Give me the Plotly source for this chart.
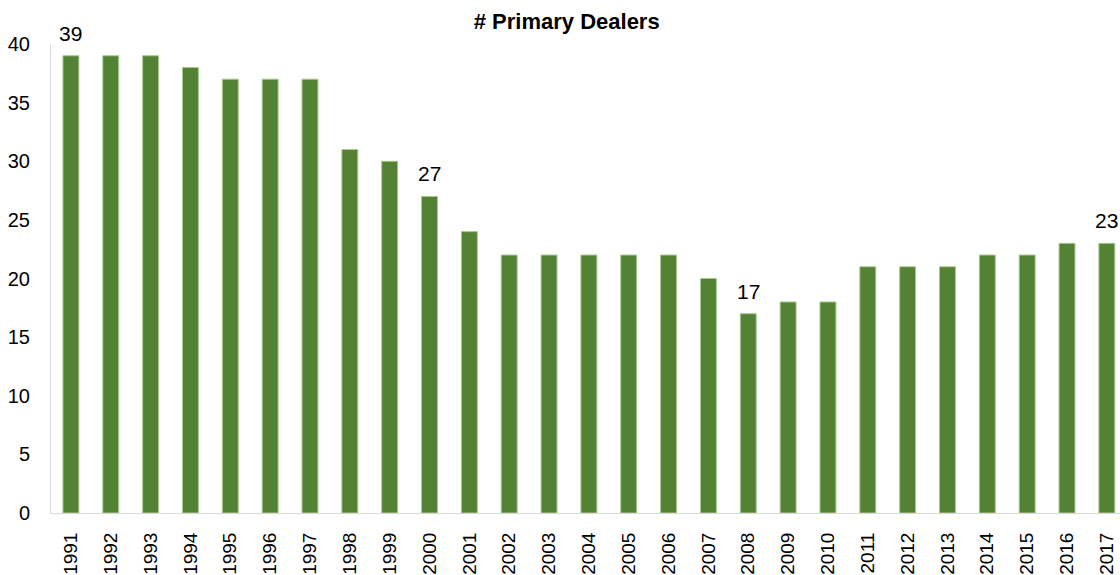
import plotly.graph_objects as go

years = [str(y) for y in range(1991, 2018)]
dealers = [39, 39, 39, 38, 37, 37, 37, 31, 30, 27, 24, 22, 22, 22, 22, 22,
           20, 17, 18, 18, 21, 21, 21, 22, 22, 23, 23]
labelled = ["1991", "2000", "2008", "2017"]

fig = go.Figure()
fig.add_trace(go.Bar(
    x=years,
    y=dealers,
    marker=dict(color="#548235", line=dict(color="#a9c98f", width=1)),
    width=0.4,
))

# value labels only on a few bars (category axis -> use the index position)
for i, (y, v) in enumerate(zip(years, dealers)):
    if y in labelled:
        fig.add_annotation(x=i, y=v, text=str(v), showarrow=False,
                           yanchor="bottom", yshift=9,
                           font=dict(size=21, color="black"))

fig.update_layout(
    width=1120,
    height=575,
    margin=dict(l=51, r=0, t=44, b=62),
    plot_bgcolor="white",
    paper_bgcolor="white",
    font=dict(family="Liberation Sans, Arial, sans-serif", size=19, color="black"),
    showlegend=False,
    title=dict(text="<b># Primary Dealers</b>", x=0.506, xanchor="center",
               y=0.963, yanchor="middle", font=dict(size=22)),
)
fig.update_xaxes(
    type="category",
    range=[-0.5, 26.33],
    tickangle=-90,
    showline=True,
    linecolor="#d9d9d9",
    linewidth=1,
    showgrid=False,
    ticks="",
    ticklabelstandoff=11,
    tickfont=dict(size=19),
)
fig.update_yaxes(
    range=[0, 40],
    dtick=5,
    showline=True,
    linecolor="#d9d9d9",
    linewidth=1,
    showgrid=False,
    zeroline=False,
    ticks="",
    ticklabelstandoff=16,
    tickfont=dict(size=20),
)

fig.write_html("out.html", config={"displayModeBar": False},
               post_script="document.body.style.margin='0';")
